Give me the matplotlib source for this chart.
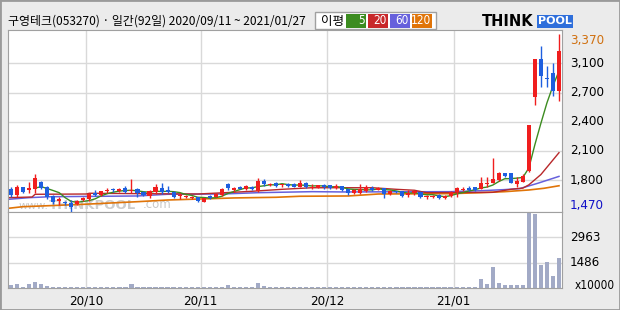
import numpy as np
import pandas as pd
import matplotlib
matplotlib.use("Agg")
import matplotlib.pyplot as plt
from matplotlib.patches import Rectangle

title = "구영테크(053270) · 일간(92일) 2020/09/11 ~ 2021/01/27"
month_pos = [12.5, 31.5, 52.5, 73.5]
month_labels = ["20/10", "20/11", "20/12", "21/01"]

opens = [1715, 1651, 1734, 1705, 1712, 1787, 1740, 1641, 1587, 1573,
         1569, 1555, 1598, 1606, 1670, 1648, 1694, 1719, 1697, 1729,
         1697, 1712, 1683, 1641, 1680, 1726, 1705, 1687, 1637, 1630,
         1619, 1627, 1580, 1644, 1634, 1651, 1765, 1705, 1737, 1719,
         1737, 1698, 1804, 1758, 1783, 1758, 1769, 1765, 1740, 1779,
         1723, 1730, 1762, 1755, 1730, 1747, 1712, 1676, 1676, 1694,
         1730, 1708, 1723, 1662, 1698, 1691, 1655, 1669, 1687, 1627,
         1627, 1651, 1616, 1641, 1680, 1708, 1726, 1733, 1719, 1769,
         1776, 1811, 1886, 1886, 1765, 1794, 1911, 2701, 3103, 2903,
         2950, 2765]
highs = [1740, 1761, 1740, 1787, 1872, 1804, 1747, 1651, 1633, 1591,
         1598, 1598, 1633, 1670, 1705, 1697, 1723, 1726, 1729, 1747,
         1819, 1729, 1698, 1701, 1765, 1776, 1747, 1694, 1669, 1651,
         1644, 1634, 1623, 1651, 1676, 1723, 1776, 1740, 1747, 1762,
         1747, 1833, 1819, 1783, 1794, 1772, 1783, 1776, 1811, 1787,
         1765, 1762, 1765, 1762, 1769, 1751, 1715, 1712, 1772, 1758,
         1747, 1733, 1726, 1705, 1698, 1698, 1705, 1705, 1691, 1651,
         1648, 1659, 1648, 1691, 1740, 1740, 1747, 1740, 1847, 1847,
         2050, 1897, 1890, 1890, 1847, 1872, 2398, 3103, 3241, 3031,
         3056, 3370]
lows = [1633, 1627, 1676, 1676, 1670, 1712, 1612, 1552, 1545, 1541,
        1470, 1548, 1591, 1591, 1644, 1641, 1676, 1687, 1687, 1670,
        1670, 1633, 1641, 1616, 1662, 1662, 1669, 1623, 1605, 1616,
        1609, 1577, 1573, 1605, 1627, 1641, 1705, 1687, 1712, 1705,
        1705, 1687, 1747, 1751, 1733, 1740, 1740, 1733, 1733, 1723,
        1715, 1723, 1715, 1712, 1715, 1694, 1648, 1662, 1666, 1683,
        1691, 1701, 1623, 1648, 1676, 1630, 1634, 1651, 1623, 1612,
        1623, 1605, 1605, 1634, 1634, 1691, 1691, 1698, 1712, 1740,
        1776, 1804, 1847, 1779, 1740, 1790, 1900, 2612, 2807, 2800,
        2708, 2654]
closes = [1651, 1734, 1687, 1723, 1830, 1729, 1633, 1580, 1609, 1563,
          1527, 1591, 1623, 1659, 1655, 1691, 1701, 1701, 1719, 1683,
          1705, 1670, 1655, 1691, 1740, 1687, 1683, 1634, 1644, 1641,
          1634, 1584, 1619, 1616, 1659, 1712, 1730, 1723, 1719, 1751,
          1712, 1801, 1765, 1772, 1751, 1772, 1751, 1740, 1776, 1733,
          1740, 1758, 1733, 1723, 1751, 1705, 1669, 1705, 1715, 1737,
          1705, 1726, 1659, 1698, 1683, 1637, 1676, 1691, 1627, 1637,
          1644, 1616, 1644, 1680, 1730, 1715, 1701, 1708, 1776, 1779,
          1822, 1890, 1858, 1783, 1804, 1858, 2398, 3103, 2925, 2889,
          2765, 3188]
# volume, x10000 shares
volume = [158, 218, 79, 218, 337, 218, 139, 60, 60, 60,
          60, 60, 60, 60, 60, 60, 60, 60, 60, 60,
          218, 60, 60, 60, 60, 60, 60, 60, 60, 60,
          60, 60, 60, 60, 60, 60, 158, 60, 60, 60,
          60, 277, 139, 60, 60, 60, 60, 60, 60, 60,
          60, 60, 60, 60, 60, 60, 60, 60, 60, 60,
          60, 60, 60, 60, 60, 60, 60, 60, 60, 60,
          60, 60, 60, 60, 60, 60, 60, 60, 515, 218,
          1248, 277, 158, 158, 158, 158, 4379, 4320, 1347, 1525,
          693, 1763]

# moving averages (day index, price)
ma20_x = [-0.5, 3.5, 4, 12.5, 13, 21, 31, 35.5, 40, 45, 50, 60, 64, 67, 69, 80, 83, 85, 86, 88, 91]
ma20_y = [1623, 1630, 1659, 1662, 1670, 1666, 1662, 1676, 1691, 1712, 1729, 1729, 1712, 1702, 1676, 1680, 1712, 1725, 1760, 1870, 2103]
ma60_x = [-0.5, 3, 6.5, 21, 26, 35, 41, 50, 55, 73, 78, 82, 84.5, 87.5, 91]
ma60_y = [1605, 1623, 1633, 1641, 1659, 1662, 1676, 1687, 1684, 1687, 1697, 1709, 1720, 1777, 1850]
ma120_x = [-0.5, 2, 5, 12, 21, 26, 37, 44, 48, 56, 61, 73, 78, 82, 86, 88.5, 91]
ma120_y = [1509, 1527, 1534, 1552, 1580, 1598, 1620, 1627, 1638, 1641, 1662, 1666, 1676, 1687, 1705, 1723, 1750]

price_grid = [1808, 2121, 2433, 2743, 3057]
price_labels = ["1,800", "2,100", "2,400", "2,700", "3,100"]
vol_grid = [1486, 2963]
vol_labels = ["1486", "2963"]

RED = "#F01E1E"
BLUE = "#1E5FDF"
GREEN = "#3C8C20"
MARED = "#B8282A"
PURPLE = "#6660DC"
ORANGE = "#E07408"
GRID = "#D9D9D9"
NUM = dict(family="DejaVu Sans", fontstretch="condensed", fontsize=9.5)
KR_FONT = ["Noto Sans CJK KR", "DejaVu Sans"]

W, H = 620, 310
fig = plt.figure(figsize=(6.2, 3.1), dpi=100, facecolor="#EBEBEB")


def box(x0, y0, x1, y1):
    return [x0 / W, 1 - y1 / H, (x1 - x0) / W, (y1 - y0) / H]


ax = fig.add_axes(box(8, 30, 562, 212))
axv = fig.add_axes(box(8, 212, 562, 288), sharex=ax)

days = np.arange(len(closes))
o = np.array(opens)
c = np.array(closes)
col = np.where(c >= o, RED, BLUE)

for a in (ax, axv):
    a.set_facecolor("white")
    for s in a.spines.values():
        s.set_color("#A0A0A0")
    for m in month_pos:
        a.axvline(m, color=GRID, lw=1, zorder=0)
    a.tick_params(length=0)

for g in price_grid:
    ax.axhline(g, color=GRID, lw=1, zorder=0)
for g in vol_grid:
    axv.axhline(g, color=GRID, lw=1, zorder=0)

# watermark
ax.text(1.2, 1478, "www.", color="#C8C8C8", fontsize=8, va="bottom", zorder=1)
ax.text(6.3, 1474, "THINKPOOL", color="#CDCDCD", fontsize=9.5, fontweight="bold", va="bottom", zorder=1)
ax.text(21.8, 1478, ".com", color="#C8C8C8", fontsize=8.5, va="bottom", zorder=1)

# moving averages
ma5 = pd.Series(closes).rolling(5).mean()
ax.plot(ma120_x, ma120_y, color=ORANGE, lw=1.2, zorder=2)
ax.plot(ma60_x, ma60_y, color=PURPLE, lw=1.1, zorder=2)
ax.plot(ma20_x, ma20_y, color=MARED, lw=1.0, zorder=2)
ax.plot(days, ma5, color=GREEN, lw=1.0, zorder=2)

# candles
ax.vlines(days, lows, highs, colors=col, lw=1, zorder=3)
body = np.maximum(np.abs(c - o), 10)
ax.bar(days, body, bottom=np.minimum(o, c), width=0.68, color=col, lw=0, zorder=4)

ax.set_xlim(-0.5, 91.5)
ax.set_ylim(1470, 3412)
ax.set_yticks([])
ax.tick_params(labelbottom=False)

axv.bar(days, volume, width=0.7, color="#A2AAC6", lw=0, zorder=2)
axv.set_ylim(0, 4450)
axv.set_yticks([])
axv.set_xticks(month_pos)
axv.set_xticklabels(month_labels, **NUM)
axv.tick_params(axis="x", pad=5)

# right side labels
tr = ax.get_yaxis_transform()
for g, lab in zip(price_grid, price_labels):
    ax.text(1.0145, g, lab, transform=tr, va="center", ha="left", **NUM)
ax.text(1.0145, 3370, "3,370", transform=tr, va="top", ha="left", color="#D07010", **NUM)
ax.text(1.0145, 1470, "1,470", transform=tr, va="bottom", ha="left", color="#1010C8", **NUM)
trv = axv.get_yaxis_transform()
for g, lab in zip(vol_grid, vol_labels):
    axv.text(1.0145, g, lab, transform=trv, va="center", ha="left", **NUM)
axv.text(1.022, 120, "x10000", transform=trv, va="center", ha="left",
         family="DejaVu Sans", fontstretch="condensed", fontsize=8.5)

# header
fig.text(8 / W, 1 - 21 / H, title, family=KR_FONT, fontsize=8.6, va="center", ha="left")
fig.add_artist(Rectangle((315 / W, 1 - 29.3 / H), 121 / W, 17 / H, transform=fig.transFigure,
                         fc="white", ec="#A0A0A0", lw=1))
fig.text(321 / W, 1 - 21 / H, "이평", family=KR_FONT, fontsize=9, va="center", ha="left")
ma_boxes = [(346, 366, "5", GREEN), (368, 388, "20", "#C8282A"), (390, 410, "60", PURPLE), (412, 432, "120", ORANGE)]
for x0, x1, lab, cc in ma_boxes:
    fig.add_artist(Rectangle((x0 / W, 1 - 27.5 / H), (x1 - x0) / W, 13 / H, transform=fig.transFigure,
                             fc=cc, ec="none"))
    fig.text((x1 - 1) / W, 1 - 21 / H, lab, color="white", family="DejaVu Sans", fontstretch="condensed",
             fontsize=8.5, va="center", ha="right")

fig.text(482 / W, 1 - 21.5 / H, "THINK", fontsize=10.5, fontweight="bold", va="center", ha="left")
fig.text(538 / W, 1 - 21.5 / H, "POOL", fontsize=8, fontweight="bold", color="white", va="center", ha="left",
         bbox=dict(boxstyle="square,pad=0.1", fc="#2F6FDB", ec="none"))

fig.add_artist(Rectangle((0, 0), 1, 1, transform=fig.transFigure, fill=False, ec="#9A9A9A", lw=2))

fig.savefig("out.png", dpi=100, facecolor=fig.get_facecolor())
